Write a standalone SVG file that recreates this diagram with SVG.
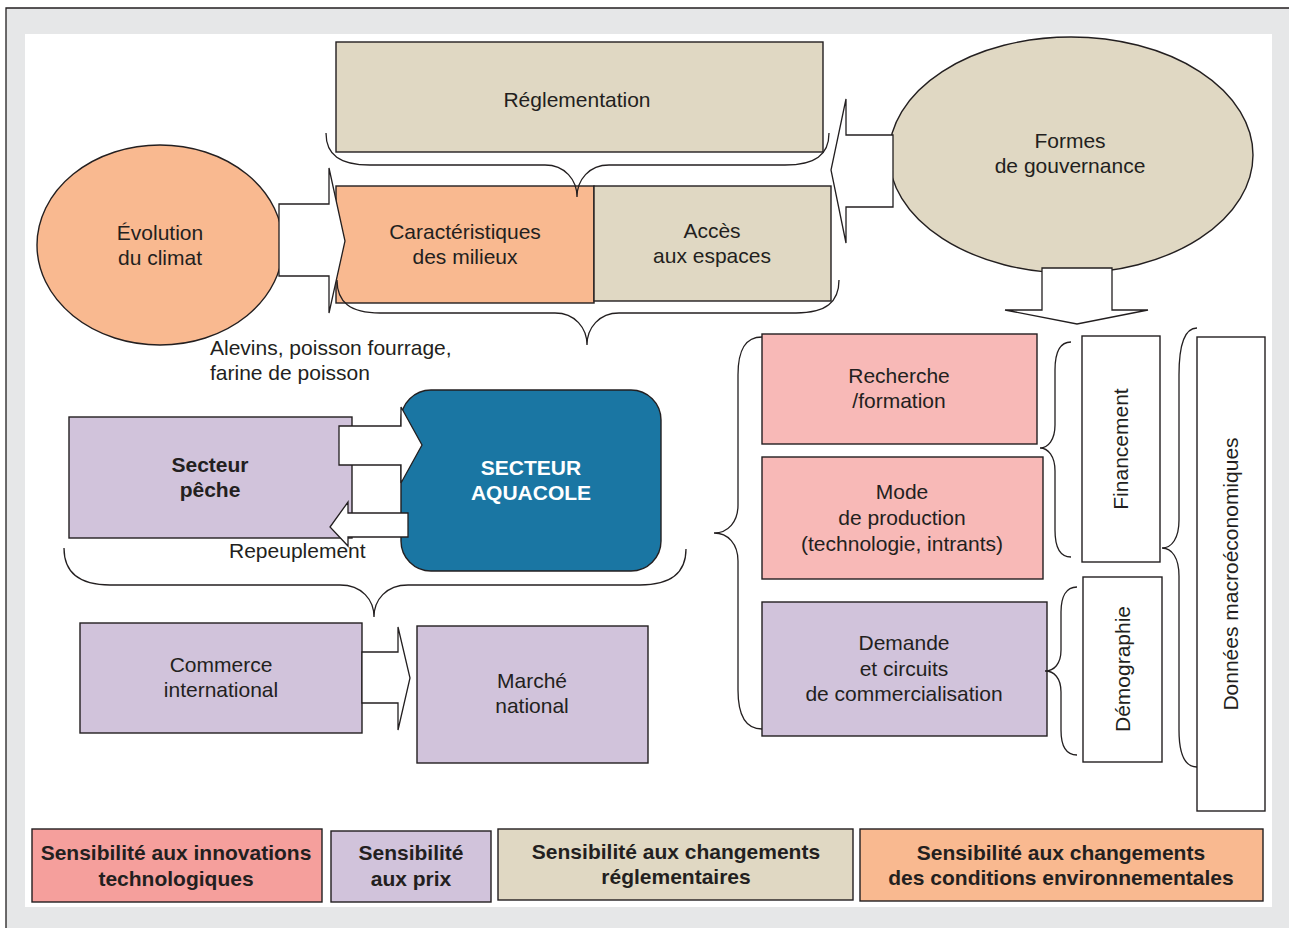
<svg xmlns="http://www.w3.org/2000/svg" width="1289" height="928" viewBox="0 0 1289 928">
<style>
text{font-family:"Liberation Sans",Arial,sans-serif;font-size:21px;fill:#231f20;text-anchor:middle}
.b{font-weight:bold}
.w{fill:#ffffff}
.l{text-anchor:start}
.bx{stroke:#231f20;stroke-width:1.4}
.beige{fill:#e0d8c3}
.sal{fill:#f9b990}
.pink{fill:#f8b9b7}
.lpink{fill:#f59f9c}
.pur{fill:#d1c3db}
.wh{fill:#ffffff}
.arr{fill:#ffffff;stroke:#231f20;stroke-width:1.3;stroke-linejoin:miter}
.br{fill:none;stroke:#231f20;stroke-width:1.3}
</style>
<rect x="0" y="0" width="1289" height="928" fill="#ffffff"/>
<rect x="6" y="8" width="1290" height="925" fill="#e6e7e8"/>
<path d="M6,928 L6,8 L1289,8" fill="none" stroke="#231f20" stroke-width="1.3"/>
<rect x="25" y="34" width="1247" height="873" fill="#ffffff"/>

<g id="reglementation"><rect class="bx beige" x="336" y="42" width="487" height="110"/><text x="577" y="107">Réglementation</text></g>
<g id="evolution-climat"><ellipse class="bx sal" cx="160" cy="245" rx="123" ry="100"/><text x="160" y="240">Évolution</text><text x="160" y="265">du climat</text></g>
<g id="caracteristiques"><rect class="bx sal" x="336" y="186" width="258" height="117"/><text x="465" y="239">Caractéristiques</text><text x="465" y="264">des milieux</text></g>
<g id="acces"><rect class="bx beige" x="594" y="186" width="237" height="115"/><text x="712" y="238">Accès</text><text x="712" y="263">aux espaces</text></g>
<g id="gouvernance"><ellipse class="bx beige" cx="1071" cy="155" rx="182" ry="118"/><text x="1070" y="148">Formes</text><text x="1070" y="173">de gouvernance</text></g>
<g id="alevins"><text class="l" x="210" y="355">Alevins, poisson fourrage,</text><text class="l" x="210" y="380">farine de poisson</text></g>
<g id="secteur-peche"><rect class="bx pur" x="69" y="417" width="283" height="121"/><text class="b" x="210" y="472">Secteur</text><text class="b" x="210" y="497">pêche</text></g>
<g id="secteur-aquacole"><rect class="bx" fill="#1a76a3" x="401" y="390" width="260" height="181" rx="30" ry="30"/><text class="b w" x="531" y="475">SECTEUR</text><text class="b w" x="531" y="500">AQUACOLE</text></g>
<g id="repeuplement"><text class="l" x="229" y="558">Repeuplement</text></g>
<g id="commerce"><rect class="bx pur" x="80" y="623" width="282" height="110"/><text x="221" y="672">Commerce</text><text x="221" y="697">international</text></g>
<g id="marche"><rect class="bx pur" x="417" y="626" width="231" height="137"/><text x="532" y="688">Marché</text><text x="532" y="713">national</text></g>
<g id="recherche"><rect class="bx pink" x="762" y="334" width="275" height="110"/><text x="899" y="383">Recherche</text><text x="899" y="408">/formation</text></g>
<g id="mode-production"><rect class="bx pink" x="762" y="457" width="281" height="122"/><text x="902" y="499">Mode</text><text x="902" y="525">de production</text><text x="902" y="551">(technologie, intrants)</text></g>
<g id="demande"><rect class="bx pur" x="762" y="602" width="285" height="134"/><text x="904" y="650">Demande</text><text x="904" y="676">et circuits</text><text x="904" y="701">de commercialisation</text></g>
<g id="financement"><rect class="bx wh" x="1082" y="336" width="78" height="226"/><text transform="translate(1128,449) rotate(-90)">Financement</text></g>
<g id="demographie"><rect class="bx wh" x="1083" y="577" width="79" height="185"/><text transform="translate(1130,669) rotate(-90)">Démographie</text></g>
<g id="donnees"><rect class="bx wh" x="1197" y="337" width="68" height="474"/><text transform="translate(1238,574) rotate(-90)">Données macroéconomiques</text></g>

<g id="connectors">
<polygon class="arr" points="279,204 329,204 329,168 345,241 329,313 329,276 279,276"/>
<polygon class="arr" points="893,135 846,135 846,99 831,170 846,243 846,207 893,207"/>
<polygon class="arr" points="1042,268 1112,268 1112,310 1148,310 1077,324 1005,310 1042,310"/>
<polygon class="arr" points="339,426 401,426 401,407 422,445 401,483 401,465 339,465"/>
<polygon class="arr" points="408,513 348,513 348,502 330,527 348,546 348,537 408,537"/>
<polygon class="arr" points="362,652 398,652 398,627 410,678 398,730 398,703 362,703"/>
<path class="br" d="M326,133 C326,155 340,165 370,165 L545,165 C565,165 577,180 577,197 C577,180 589,165 609,165 L785,165 C815,165 829,155 829,133"/>
<path class="br" d="M337,280 C337,302 350,313 380,313 L555,313 C575,313 587,328 587,345 C587,328 599,313 619,313 L796,313 C826,313 839,302 839,280"/>
<path class="br" d="M64,548 C64,572 78,585 110,585 L340,585 C362,585 374,600 374,617 C374,600 386,585 408,585 L640,585 C672,585 686,572 686,549"/>
<path class="br" d="M762,337 C745,337 738,350 738,375 L738,505 C738,522 728,533 714,533 C728,533 738,544 738,561 L738,690 C738,715 745,729 762,729"/>
<path class="br" d="M1071,342 C1060,342 1055,352 1055,370 L1055,425 C1055,440 1048,448 1040,448 C1048,448 1055,456 1055,471 L1055,530 C1055,548 1060,557 1071,557"/>
<path class="br" d="M1077,587 C1066,587 1061,597 1061,612 L1061,650 C1061,664 1054,671 1045,671 C1054,671 1061,678 1061,692 L1061,730 C1061,746 1066,755 1077,755"/>
<path class="br" d="M1197,328 C1185,328 1179,345 1179,375 L1179,520 C1179,538 1172,548 1162,548 C1172,548 1179,558 1179,576 L1179,730 C1179,755 1185,767 1197,767"/>
</g>

<g id="legend-innovations"><rect class="bx lpink" x="32" y="829" width="290" height="73"/><text class="b" x="176" y="860">Sensibilité aux innovations</text><text class="b" x="176" y="886">technologiques</text></g>
<g id="legend-prix"><rect class="bx pur" x="331" y="831" width="160" height="71"/><text class="b" x="411" y="860">Sensibilité</text><text class="b" x="411" y="886">aux prix</text></g>
<g id="legend-reglementaires"><rect class="bx beige" x="498" y="829" width="355" height="71"/><text class="b" x="676" y="859">Sensibilité aux changements</text><text class="b" x="676" y="884">réglementaires</text></g>
<g id="legend-environnementales"><rect class="bx sal" x="860" y="829" width="403" height="72"/><text class="b" x="1061" y="860">Sensibilité aux changements</text><text class="b" x="1061" y="885">des conditions environnementales</text></g>
</svg>
